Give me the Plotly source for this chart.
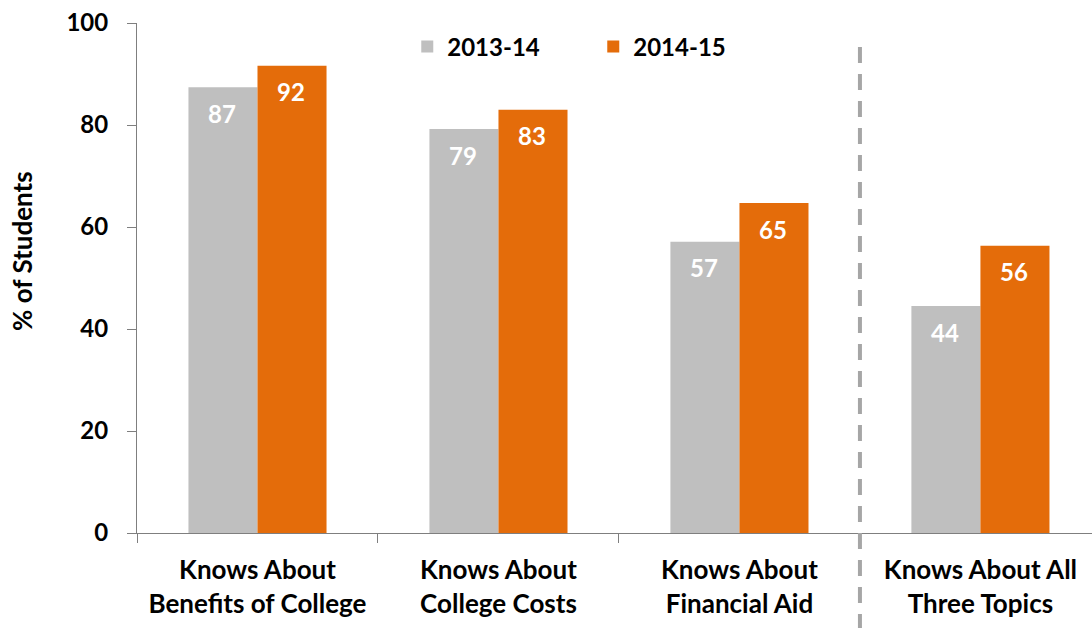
import plotly.graph_objects as go

categories = ["Knows About<br>Benefits of College", "Knows About<br>College Costs",
              "Knows About<br>Financial Aid", "Knows About All<br>Three Topics"]
series_names = ["2013-14", "2014-15"]
values_1314 = [87.4, 79.2, 57.1, 44.5]
values_1415 = [91.6, 83.0, 64.7, 56.3]
labels_1314 = ["87", "79", "57", "44"]
labels_1415 = ["92", "83", "65", "56"]
y_ticks = [0, 20, 40, 60, 80, 100]

GRAY = "#BFBFBF"
ORANGE = "#E46C0A"
FONT = "Lato"

fig = go.Figure()
fig.add_trace(go.Bar(name=series_names[0], x=categories, y=values_1314,
                     marker=dict(color=GRAY, line=dict(width=0))))
fig.add_trace(go.Bar(name=series_names[1], x=categories, y=values_1415,
                     marker=dict(color=ORANGE, line=dict(width=0))))

annotations = []
for i, cat in enumerate(categories):
    for vals, labs, shift in ((values_1314, labels_1314, -35), (values_1415, labels_1415, 34)):
        annotations.append(dict(x=cat, y=vals[i], xref="x", yref="y", text=labs[i],
                                showarrow=False, xshift=shift, yshift=-26, yanchor="middle",
                                font=dict(family=FONT, size=24, color="white", weight="bold")))
annotations.append(dict(x=-0.1204, y=0.553, xref="paper", yref="paper", text="% of Students",
                        textangle=-90, showarrow=False,
                        font=dict(family=FONT, size=26, color="black", weight="bold"),
                        xanchor="center", yanchor="middle"))

fig.update_layout(
    width=1092, height=628,
    margin=dict(l=137, r=0, t=23, b=95, pad=0),
    paper_bgcolor="white", plot_bgcolor="white",
    barmode="group", bargap=0.427, bargroupgap=0,
    font=dict(family=FONT, size=24, color="black"),
    showlegend=True,
    legend=dict(orientation="h", x=0.283, y=0.953, xanchor="left", yanchor="middle",
                font=dict(family=FONT, size=24, color="black", weight="bold"),
                entrywidth=141, entrywidthmode="pixels",
                bgcolor="rgba(0,0,0,0)", traceorder="normal"),
    annotations=annotations,
    shapes=[dict(type="line", xref="x", yref="paper", x0=2.5, x1=2.5, y0=-0.19, y1=0.963,
                 line=dict(color="#A6A6A6", width=4, dash="16px,11px"))],
)
fig.update_xaxes(range=[-0.5, 3.463], showline=True, linecolor="#7F7F7F", linewidth=1,
                 ticks="outside", ticklen=9, tickcolor="#7F7F7F", tickson="boundaries",
                 tickfont=dict(family=FONT, size=26, color="black", weight="bold"), showgrid=False,
                 ticklabelstandoff=14)
fig.update_yaxes(range=[0, 100], tickvals=y_ticks, showline=True, linecolor="#7F7F7F", linewidth=1,
                 ticks="outside", ticklen=9, tickcolor="#7F7F7F", showgrid=False, zeroline=False,
                 tickfont=dict(family=FONT, size=24, color="black", weight="bold"),
                 ticklabelstandoff=14)

fig.write_html("out.html")
